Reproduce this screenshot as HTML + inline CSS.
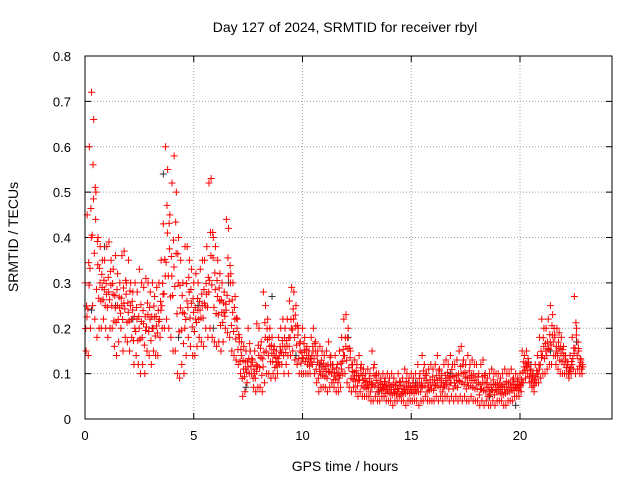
<!DOCTYPE html>
<html><head><meta charset="utf-8"><style>
body{margin:0;background:#fff}
svg{display:block;font-family:"Liberation Sans",sans-serif}
</style></head><body>
<svg id="chart" width="640" height="480">
<text x="345" y="32" text-anchor="middle" font-size="14">Day 127 of 2024, SRMTID for receiver rbyl</text>
<text x="345" y="471" text-anchor="middle" font-size="14">GPS time / hours</text>
<text transform="translate(18,237) rotate(-90)" text-anchor="middle" font-size="14">SRMTID / TECUs</text>
<g id="grid"></g>
<g id="ticks"></g>
<g id="black"></g>
<g id="red"></g>
<rect x="85" y="56" width="527" height="363" fill="none" stroke="#000"/>
</svg>
<script>
const hiVals=[.3,.45,.6,.72,.66,.5,.4,.38,.35,.35,
.38,.39,.35,.33,.36,.32,.3,.36,.37,.3,
.35,.3,.28,.3,.28,.33,.3,.29,.31,.3,
.28,.3,.27,.29,.3,.35,.43,.6,.55,.45,
.52,.58,.5,.4,.35,.3,.38,.38,.35,.33,
.3,.32,.3,.33,.35,.35,.38,.52,.53,.4,
.38,.35,.32,.3,.28,.44,.42,.32,.3,.27,
.22,.18,.17,.16,.15,.2,.15,.13,.15,.21,
.2,.17,.28,.25,.22,.2,.18,.16,.15,.18,
.2,.22,.2,.22,.26,.29,.28,.25,.2,.17,
.2,.18,.16,.15,.18,.2,.17,.15,.16,.15,
.14,.15,.17,.14,.12,.14,.12,.15,.18,.22,
.23,.2,.15,.12,.13,.12,.14,.12,.11,.1,
.11,.1,.15,.12,.1,.1,.09,.1,.09,.1,
.09,.1,.09,.08,.1,.08,.09,.11,.1,.09,
.1,.09,.1,.12,.1,.14,.12,.1,.11,.12,
.11,.12,.14,.11,.1,.12,.13,.12,.14,.12,
.12,.13,.15,.16,.13,.12,.14,.12,.13,.12,
.12,.1,.12,.13,.1,.09,.1,.11,.1,.1,
.1,.09,.1,.11,.1,.1,.11,.09,.1,.09,
.1,.15,.14,.15,.12,.11,.1,.12,.14,.18,
.22,.2,.2,.22,.25,.23,.18,.2,.19,.18,
.16,.14,.12,.14,.18,.27,.2,.15,.13];
const loVals=[.15,.14,.2,.25,.22,.18,.2,.2,.22,.2,
.18,.2,.2,.16,.14,.17,.2,.15,.18,.17,
.15,.18,.12,.14,.12,.1,.12,.1,.15,.14,
.12,.15,.14,.14,.18,.2,.2,.22,.2,.18,
.15,.15,.1,.09,.12,.1,.14,.18,.16,.14,
.14,.16,.18,.17,.16,.2,.18,.2,.18,.17,
.16,.17,.15,.17,.2,.19,.18,.15,.14,.13,
.12,.1,.05,.06,.08,.1,.1,.07,.06,.07,
.07,.06,.08,.1,.1,.09,.1,.09,.1,.12,
.12,.1,.12,.1,.14,.15,.13,.12,.1,.1,
.1,.1,.1,.1,.12,.1,.08,.06,.07,.07,
.07,.06,.07,.08,.07,.06,.06,.07,.1,.1,
.08,.07,.06,.07,.06,.05,.06,.05,.05,.05,
.05,.04,.04,.05,.04,.04,.05,.05,.04,.04,
.04,.03,.04,.04,.05,.04,.04,.03,.04,.04,
.04,.04,.04,.03,.04,.04,.05,.04,.04,.04,
.04,.05,.04,.05,.04,.05,.05,.04,.05,.04,
.05,.04,.05,.04,.05,.04,.04,.05,.04,.04,
.04,.03,.04,.03,.04,.03,.03,.04,.03,.04,
.04,.04,.03,.03,.04,.04,.04,.05,.05,.05,
.06,.08,.09,.1,.08,.07,.06,.08,.08,.09,
.1,.1,.11,.12,.12,.14,.12,.11,.1,.1,
.1,.1,.09,.1,.11,.1,.11,.1,.1];
const blackTimes=[0.3,0.9,1.4,2.2,3.1,3.6,4.3,5.2,5.9,6.6,7.4,8.6,9.7,10.8,12.1,13.5,15.2,16.8,18.6,19.8,20.5,21.4,22.6];
const blackVals=[.24,.38,.25,.22,.2,.54,.18,.25,.2,.3,.07,.27,.14,.12,.18,.06,.08,.1,.05,.03,.12,.15,.17];
const xTicks=[0,5,10,15,20];
const yTicks=[0,0.1,0.2,0.3,0.4,0.5,0.6,0.7,0.8];
const NS="http://www.w3.org/2000/svg";
const X=t=>85+t*21.75, Y=v=>419-v*363/0.8;
const grid=document.getElementById('grid'),ticks=document.getElementById('ticks');
function mk(tag,a,p){const e=document.createElementNS(NS,tag);for(const k in a)e.setAttribute(k,a[k]);p.appendChild(e);return e;}
xTicks.forEach(t=>{const x=X(t);
 if(t>0){const g=mk('line',{x1:x,x2:x,y1:56,y2:419,stroke:'#a0a0a0','stroke-dasharray':'1,2'},grid);
 
 }
 mk('line',{x1:x,x2:x,y1:419,y2:413,stroke:'#000'},ticks);
 mk('line',{x1:x,x2:x,y1:56,y2:62,stroke:'#000'},ticks);
 const l=mk('text',{x:x,y:440,'text-anchor':'middle','font-size':13},ticks);l.textContent=t;
 
 });
yTicks.forEach(v=>{const y=Y(v);
 if(v>0&&v<0.8){const g=mk('line',{x1:85,x2:612,y1:y,y2:y,stroke:'#a0a0a0','stroke-dasharray':'1,2'},grid);
 
 }
 mk('line',{x1:85,x2:91,y1:y,y2:y,stroke:'#000'},ticks);
 mk('line',{x1:606,x2:612,y1:y,y2:y,stroke:'#000'},ticks);
 const l=mk('text',{x:71,y:y+5,'text-anchor':'end','font-size':13},ticks);l.textContent=v===0?'0':v.toFixed(1);
 
 });
function plus(g,t,v,c){const x=X(t),y=Y(v);
 const p=mk('path',{d:`M${x-3.5},${y}h7M${x},${y-3.5}v7`,stroke:c,'stroke-width':1},g);
 
 }
const bg=document.getElementById('black');
blackTimes.forEach((t,i)=>plus(bg,t,blackVals[i],'#333'));
const rg=document.getElementById('red');
hiVals.forEach((h,i)=>{const t=i*0.1,l=loVals[i];
 plus(rg,t,h,'#f00');plus(rg,t+0.05,l,'#f00');
 plus(rg,t+0.03,l+(h-l)*0.33,'#f00');plus(rg,t+0.07,l+(h-l)*0.66,'#f00');
 plus(rg,t+0.09,l+(h-l)*0.5,'#f00');});
</script>
</body></html>
